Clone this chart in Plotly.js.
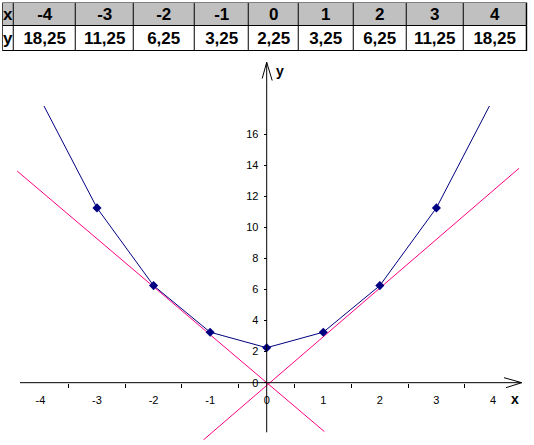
<!DOCTYPE html>
<html>
<head>
<meta charset="utf-8">
<script src="https://cdn.plot.ly/plotly-3.0.1.min.js"></script>
<style>html,body{margin:0;padding:0;background:#fff;}#chart{width:534px;height:445px;}</style>
</head>
<body>
<div id="chart"></div>
<script>
// ---- data ----
var xVals = [-4, -3, -2, -1, 0, 1, 2, 3, 4];
var yVals = [18.25, 11.25, 6.25, 3.25, 2.25, 3.25, 6.25, 11.25, 18.25];
var rowLabels = ['x', 'y'];
var tangentLeftX = [-4.41, 1.02];
var tangentLeftY = [13.62, -3.15];
var tangentRightX = [-1.12, 4.46];
var tangentRightY = [-3.69, 13.8];
var xTickMarks = [-3.5, -2.5, -1.5, -0.5, 0.5, 1.5, 2.5, 3.5];
var xTickLabels = [-4, -3, -2, -1, 0, 1, 2, 3, 4];
var yTickVals = [0, 2, 4, 6, 8, 10, 12, 14, 16];

// ---- layout geometry (styling) ----
var W = 534, H = 445;
var FONT = 'Liberation Sans, Arial, sans-serif';
var xRange = [-4.414, 4.460];
var yRange = [-3.69, 17.81];
var plotL = 17, plotR = 519, plotT = 106, plotB = 440;
function px(p) { return p / W; }
function py(p) { return 1 - p / H; }
var xDomain = [px(plotL), px(plotR)];
var yDomain = [py(plotB), py(plotT)];
var zeroXpx = plotL + (0 - xRange[0]) / (xRange[1] - xRange[0]) * (plotR - plotL);
var zeroYpx = plotB - (0 - yRange[0]) / (yRange[1] - yRange[0]) * (plotB - plotT);

function fmt(v) { return v.toFixed(2).replace('.', ','); }

// table built as a heatmap grid
var colWidths = [10.6, 62.7, 57.3, 61.7, 54, 49.3, 55, 53.4, 56.6, 63.4];
var rowHeights = [25, 22.5]; // bottom row (y), top row (x)
var colEdges = [0];
colWidths.forEach(function (w) { colEdges.push(colEdges[colEdges.length - 1] + w); });
var rowEdges = [0, rowHeights[0], rowHeights[0] + rowHeights[1]];
var tabL = 2.7, tabR = tabL + colEdges[colEdges.length - 1], tabT = 3, tabB = tabT + rowEdges[2];

var headerRow = [rowLabels[0]].concat(xVals.map(String));
var valueRow = [rowLabels[1]].concat(yVals.map(fmt));
var table = {
  type: 'heatmap', xaxis: 'x3', yaxis: 'y3',
  x: colEdges, y: rowEdges,
  z: [valueRow.map(function () { return 0; }), headerRow.map(function () { return 1; })],
  text: [valueRow, headerRow],
  texttemplate: '%{text}',
  textfont: { family: FONT, size: 17, color: '#000', weight: 'bold' },
  colorscale: [[0, '#ffffff'], [1, '#c0c0c0']], zmin: 0, zmax: 1,
  showscale: false, xgap: 1, ygap: 1, hoverinfo: 'skip'
};

var pinkL = { type: 'scatter', mode: 'lines', x: tangentLeftX, y: tangentLeftY,
  line: { color: '#ff0080', width: 1 }, hoverinfo: 'skip', showlegend: false };
var pinkR = { type: 'scatter', mode: 'lines', x: tangentRightX, y: tangentRightY,
  line: { color: '#ff0080', width: 1 }, hoverinfo: 'skip', showlegend: false };
var curve = { type: 'scatter', mode: 'lines+markers', x: xVals, y: yVals,
  line: { color: '#000080', width: 1 },
  marker: { symbol: 'diamond', size: 7, color: '#000080' },
  showlegend: false };
var labelsAxisTrace = { type: 'scatter', mode: 'markers', x: [0], y: [0], xaxis: 'x2', yaxis: 'y',
  marker: { opacity: 0, size: 1 }, hoverinfo: 'skip', showlegend: false };

var xPos = py(zeroYpx);
var yPos = px(zeroXpx);

var layout = {
  width: W, height: H,
  margin: { l: 0, r: 0, t: 0, b: 0, pad: 0 },
  paper_bgcolor: '#fff', plot_bgcolor: 'rgba(0,0,0,0)',
  showlegend: false,
  font: { family: FONT, size: 11, color: '#000' },
  xaxis: {
    domain: xDomain, range: xRange, anchor: 'free', position: xPos,
    showgrid: false, zeroline: false, showline: false,
    tickmode: 'array', tickvals: xTickMarks, ticks: 'outside', ticklen: 4,
    tickcolor: '#000', tickwidth: 1, showticklabels: false, fixedrange: true
  },
  xaxis2: {
    domain: xDomain, range: xRange, overlaying: 'x', anchor: 'free', position: xPos,
    showgrid: false, zeroline: false, showline: false,
    tickmode: 'array', tickvals: xTickLabels, ticktext: xTickLabels.map(String),
    ticks: '', showticklabels: true, ticklabelstandoff: 9,
    tickfont: { family: FONT, size: 11, color: '#000' }, fixedrange: true
  },
  yaxis: {
    domain: yDomain, range: yRange, anchor: 'free', position: yPos,
    showgrid: false, zeroline: false, showline: false,
    tickmode: 'array', tickvals: yTickVals, ticks: 'outside', ticklen: 3,
    tickcolor: '#000', tickwidth: 1, ticklabelstandoff: 3,
    tickfont: { family: FONT, size: 11, color: '#000' }, fixedrange: true
  },
  xaxis3: { domain: [px(tabL), px(tabR)], range: [colEdges[0], colEdges[colEdges.length - 1]],
    anchor: 'y3', visible: false, fixedrange: true },
  yaxis3: { domain: [py(tabB), py(tabT)], range: [rowEdges[0], rowEdges[2]],
    anchor: 'x3', visible: false, fixedrange: true },
  shapes: [
    // black backing: visible through heatmap gaps as the table grid lines
    { type: 'rect', xref: 'paper', yref: 'paper', x0: px(tabL - 0.5), x1: px(tabR + 0.5), y0: py(tabB + 0.5), y1: py(tabT - 0.5),
      line: { width: 0 }, fillcolor: '#000', layer: 'below' },
    { type: 'line', xref: 'paper', yref: 'paper', x0: px(20), x1: px(521.7), y0: py(zeroYpx), y1: py(zeroYpx), line: { color: '#000', width: 1 } },
    { type: 'path', xref: 'paper', yref: 'paper',
      path: 'M ' + px(504) + ' ' + py(zeroYpx - 5) + ' L ' + px(521.7) + ' ' + py(zeroYpx) + ' L ' + px(506) + ' ' + py(zeroYpx + 5),
      line: { color: '#000', width: 1 } },
    { type: 'line', xref: 'paper', yref: 'paper', x0: px(zeroXpx), x1: px(zeroXpx), y0: py(432.3), y1: py(62.3), line: { color: '#000', width: 1 } },
    { type: 'path', xref: 'paper', yref: 'paper',
      path: 'M ' + px(zeroXpx - 4.5) + ' ' + py(78.5) + ' L ' + px(zeroXpx) + ' ' + py(62.3) + ' L ' + px(zeroXpx + 5.5) + ' ' + py(80.5),
      line: { color: '#000', width: 1 } }
  ],
  annotations: [
    { xref: 'paper', yref: 'paper', x: px(514.5), y: py(399), text: '<b>x</b>', showarrow: false,
      xanchor: 'center', yanchor: 'middle', font: { family: FONT, size: 14, color: '#000' } },
    { xref: 'paper', yref: 'paper', x: px(280), y: py(71), text: '<b>y</b>', showarrow: false,
      xanchor: 'center', yanchor: 'middle', font: { family: FONT, size: 14, color: '#000' } }
  ]
};

Plotly.newPlot('chart', [table, pinkL, pinkR, curve, labelsAxisTrace], layout, { displayModeBar: false, staticPlot: true });
</script>
</body>
</html>
